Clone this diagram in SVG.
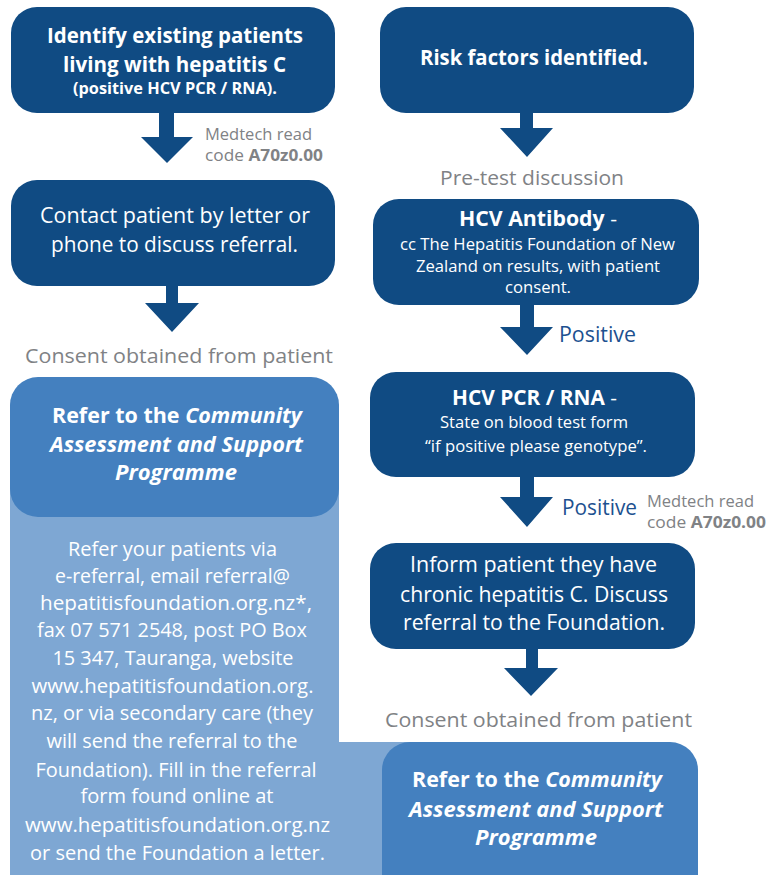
<svg xmlns="http://www.w3.org/2000/svg" width="778" height="875" viewBox="0 0 778 875">
<style>
text{font-family:"Open Sans","Noto Sans","Liberation Sans",sans-serif;text-anchor:middle}
.navy{fill:#104b83}
.mid{fill:#4480bf}
.light{fill:#7ea7d3}
.w{fill:#ffffff}
.b{font-weight:bold}
.bi{font-weight:bold;font-style:italic}
.t20{font-size:21.5px}
.t19{font-size:20.5px}
.t18{font-size:19.5px}
.t15{font-size:16px}
.t14{font-size:15.5px}
.gray{fill:#808285}
.small{font-size:15.5px;text-anchor:start}
.pos{fill:#1d5190;font-size:21px;text-anchor:start}
.arrow{fill:#104b83}
</style>
<rect width="778" height="875" fill="#ffffff"/>
<path class="light" d="M10,483 H339 V742 H450 V875 H10 Z"/>

<g id="connectors">
<polygon class="arrow" points="159,113 174,113 174,137 193,137 167,163 141,137 159,137"/>
<polygon class="arrow" points="166,286 178,286 178,303 199,303 172,332 145,303 166,303"/>
<polygon class="arrow" points="520,113 533,113 533,128 553,128 527,157 500,128 520,128"/>
<polygon class="arrow" points="520,305 534,305 534,327 553,327 527,355 500,327 520,327"/>
<polygon class="arrow" points="520,477 534,477 534,497 553,497 527,527 500,497 520,497"/>
<polygon class="arrow" points="526,649 538,649 538,668 558,668 531,696 504,668 526,668"/>
</g>

<g id="labels">
<text class="gray small" x="205" y="140" textLength="107" lengthAdjust="spacingAndGlyphs">Medtech read</text>
<text class="gray small" x="205" y="161" textLength="118" lengthAdjust="spacingAndGlyphs">code <tspan class="b">A70z0.00</tspan></text>
<text class="gray t19" x="532" y="185" textLength="184" lengthAdjust="spacingAndGlyphs">Pre-test discussion</text>
<text class="gray t19" x="179" y="363" textLength="308" lengthAdjust="spacingAndGlyphs">Consent obtained from patient</text>
<text class="pos" x="559" y="342" textLength="77" lengthAdjust="spacingAndGlyphs">Positive</text>
<text class="pos" x="562" y="515" textLength="75" lengthAdjust="spacingAndGlyphs">Positive</text>
<text class="gray small" x="647" y="507" textLength="107" lengthAdjust="spacingAndGlyphs">Medtech read</text>
<text class="gray small" x="647" y="528" textLength="119" lengthAdjust="spacingAndGlyphs">code <tspan class="b">A70z0.00</tspan></text>
<text class="gray t19" x="538.5" y="727" textLength="307" lengthAdjust="spacingAndGlyphs">Consent obtained from patient</text>
</g>

<g id="identify">
<rect class="navy" x="11" y="7" width="324" height="106" rx="26"/>
<text class="w b t20" x="175" y="43" textLength="256" lengthAdjust="spacingAndGlyphs">Identify existing patients</text>
<text class="w b t20" x="174.5" y="72" textLength="223" lengthAdjust="spacingAndGlyphs">living with hepatitis C</text>
<text class="w b t14" x="175" y="94" textLength="204" lengthAdjust="spacingAndGlyphs">(positive HCV PCR / RNA).</text>
</g>

<g id="risk">
<rect class="navy" x="380" y="7" width="314" height="106" rx="26"/>
<text class="w b t20" x="534" y="65" textLength="228" lengthAdjust="spacingAndGlyphs">Risk factors identified.</text>
</g>

<g id="contact">
<rect class="navy" x="11" y="180" width="324" height="106" rx="26"/>
<text class="w t20" x="175" y="223" textLength="270" lengthAdjust="spacingAndGlyphs">Contact patient by letter or</text>
<text class="w t20" x="174.5" y="252" textLength="247" lengthAdjust="spacingAndGlyphs">phone to discuss referral.</text>
</g>

<g id="antibody">
<rect class="navy" x="373" y="199" width="326" height="106" rx="26"/>
<text class="w t19" x="538" y="226" textLength="158" lengthAdjust="spacingAndGlyphs"><tspan class="b">HCV Antibody</tspan> -</text>
<text class="w t15" x="537.5" y="250" textLength="275" lengthAdjust="spacingAndGlyphs">cc The Hepatitis Foundation of New</text>
<text class="w t15" x="538" y="272" textLength="244" lengthAdjust="spacingAndGlyphs">Zealand on results, with patient</text>
<text class="w t15" x="538" y="293" textLength="66" lengthAdjust="spacingAndGlyphs">consent.</text>
</g>

<g id="pcr">
<rect class="navy" x="370" y="372" width="325" height="105" rx="26"/>
<text class="w t19" x="534.5" y="405" textLength="165" lengthAdjust="spacingAndGlyphs"><tspan class="b">HCV PCR / RNA</tspan> -</text>
<text class="w t15" x="534" y="428" textLength="188" lengthAdjust="spacingAndGlyphs">State on blood test form</text>
<text class="w t15" x="536" y="452" textLength="222" lengthAdjust="spacingAndGlyphs">“if positive please genotype”.</text>
</g>

<g id="inform">
<rect class="navy" x="370" y="543" width="325" height="106" rx="26"/>
<text class="w t20" x="533.5" y="572" textLength="247" lengthAdjust="spacingAndGlyphs">Inform patient they have</text>
<text class="w t20" x="534" y="602" textLength="268" lengthAdjust="spacingAndGlyphs">chronic hepatitis C. Discuss</text>
<text class="w t20" x="534" y="630" textLength="262" lengthAdjust="spacingAndGlyphs">referral to the Foundation.</text>
</g>

<g id="refer-left">
<rect class="mid" x="10" y="377" width="329" height="140" rx="28"/>
<text class="w t20" x="177" y="423" textLength="250" lengthAdjust="spacingAndGlyphs"><tspan class="b">Refer to the </tspan><tspan class="bi">Community</tspan></text>
<text class="w bi t20" x="176.5" y="452" textLength="253" lengthAdjust="spacingAndGlyphs">Assessment and Support</text>
<text class="w bi t20" x="176" y="480" textLength="122" lengthAdjust="spacingAndGlyphs">Programme</text>
</g>

<g id="referral-details">
<text class="w t18" x="172.5" y="556" textLength="209" lengthAdjust="spacingAndGlyphs">Refer your patients via</text>
<text class="w t18" x="172.5" y="583" textLength="235" lengthAdjust="spacingAndGlyphs">e-referral, email referral@</text>
<text class="w t18" x="176" y="610" textLength="272" lengthAdjust="spacingAndGlyphs">hepatitisfoundation.org.nz*,</text>
<text class="w t18" x="172" y="637" textLength="270" lengthAdjust="spacingAndGlyphs">fax 07 571 2548, post PO Box</text>
<text class="w t18" x="173" y="665" textLength="241" lengthAdjust="spacingAndGlyphs">15 347, Tauranga, website</text>
<text class="w t18" x="172.5" y="693" textLength="282" lengthAdjust="spacingAndGlyphs">www.hepatitisfoundation.org.</text>
<text class="w t18" x="172" y="720" textLength="282" lengthAdjust="spacingAndGlyphs">nz, or via secondary care (they</text>
<text class="w t18" x="172" y="748" textLength="251" lengthAdjust="spacingAndGlyphs">will send the referral to the</text>
<text class="w t18" x="176" y="777" textLength="281" lengthAdjust="spacingAndGlyphs">Foundation). Fill in the referral</text>
<text class="w t18" x="177" y="803" textLength="193" lengthAdjust="spacingAndGlyphs">form found online at</text>
<text class="w t18" x="177.5" y="832" textLength="305" lengthAdjust="spacingAndGlyphs">www.hepatitisfoundation.org.nz</text>
<text class="w t18" x="177.5" y="860" textLength="295" lengthAdjust="spacingAndGlyphs">or send the Foundation a letter.</text>
</g>

<g id="refer-right">
<rect class="mid" x="382" y="742" width="316" height="165" rx="28"/>
<text class="w t20" x="537" y="787" textLength="250" lengthAdjust="spacingAndGlyphs"><tspan class="b">Refer to the </tspan><tspan class="bi">Community</tspan></text>
<text class="w bi t20" x="536" y="817" textLength="254" lengthAdjust="spacingAndGlyphs">Assessment and Support</text>
<text class="w bi t20" x="536" y="845" textLength="122" lengthAdjust="spacingAndGlyphs">Programme</text>
</g>
</svg>
